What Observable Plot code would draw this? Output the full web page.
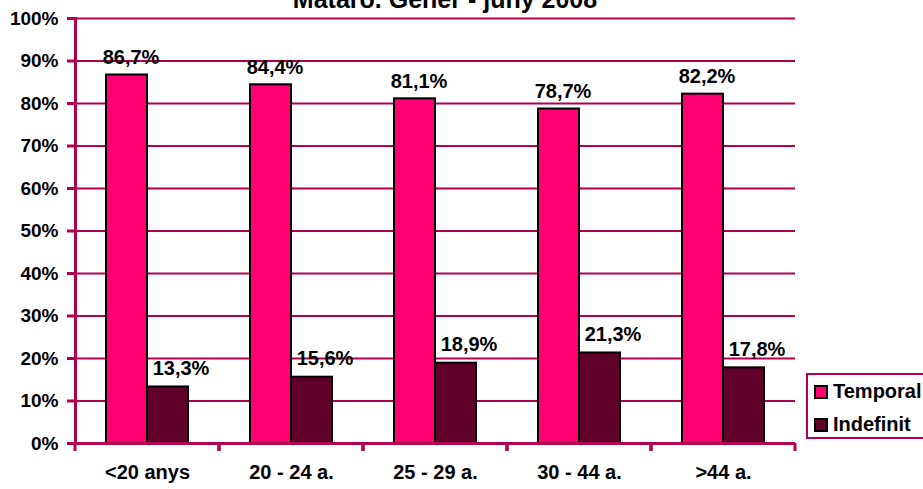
<!DOCTYPE html>
<html>
<head>
<meta charset="utf-8">
<script src="https://cdn.jsdelivr.net/npm/d3@7"></script>
<script src="https://cdn.jsdelivr.net/npm/@observablehq/plot@0.6"></script>
<style>
  html, body { margin: 0; padding: 0; background: #fff; overflow: hidden; }
  #wrap { position: relative; width: 923px; height: 489px; font-family: "Liberation Sans", Arial, sans-serif; font-weight: bold; color: #000; }
  #title { position: absolute; left: 0; width: 890px; top: -16px; text-align: center; font-size: 25px; line-height: 30px; z-index: 2; }
  #legend { position: absolute; left: 806px; top: 373px; width: 130px; height: 62px; border: 2px solid #B0004F; background: #fff; font-size: 20px; z-index: 2; }
  .item { position: absolute; left: 6px; display: flex; align-items: center; }
  .sw { width: 10px; height: 10px; border: 2px solid #000; margin-right: 5px; }
</style>
</head>
<body>
<div id="wrap">
  <div id="title">Mataró. Gener - juny 2008</div>
  <div id="chart"></div>
  <div id="legend"></div>
</div>
<script>
const categories = ["<20 anys", "20 - 24 a.", "25 - 29 a.", "30 - 44 a.", ">44 a."];
const seriesNames = ["Temporal", "Indefinit"];
const temporal = [86.7, 84.4, 81.1, 78.7, 82.2];
const indefinit = [13.3, 15.6, 18.9, 21.3, 17.8];
const yTicks = [0, 10, 20, 30, 40, 50, 60, 70, 80, 90, 100];
const colors = ["#FF0070", "#600028"];
const AX = "#B0004F";

const data = [];
categories.forEach((c, i) => {
  data.push({cat: c, series: seriesNames[0], value: temporal[i]});
  data.push({cat: c, series: seriesNames[1], value: indefinit[i]});
});
const fmt = v => v.toFixed(1).replace(".", ",") + "%";

const boundaryTicks = (index, scales, values, dims) => {
  const g = d3.create("svg:g");
  const y0 = dims.height - dims.marginBottom;
  for (const x of [dims.marginLeft, dims.width - dims.marginRight]) {
    g.append("line").attr("x1", x).attr("x2", x).attr("y1", y0).attr("y2", y0 + 8)
      .attr("stroke", AX).attr("stroke-width", 3);
  }
  return g.node();
};

const plot = Plot.plot({
  width: 923,
  height: 489,
  marginLeft: 75,
  marginRight: 128,
  marginTop: 18,
  marginBottom: 46,
  style: {fontFamily: "'Liberation Sans', Arial, sans-serif", fontWeight: "bold", fontSize: "20px", color: "#000", background: "transparent"},
  fx: {domain: categories, padding: 0, label: null},
  x: {domain: seriesNames, paddingInner: 0, paddingOuter: 0.756, axis: null},
  y: {domain: [0, 100], label: null},
  color: {domain: seriesNames, range: colors},
  marks: [
    Plot.ruleY(yTicks.slice(1), {stroke: AX, strokeWidth: 2}),
    Plot.barY(data, {fx: "cat", x: "series", y: "value", fill: "series", stroke: "#000", strokeWidth: 2}),
    Plot.text(data.filter(d => d.series === seriesNames[0]), {fx: "cat", x: "series", y: "value", text: d => fmt(d.value), lineAnchor: "bottom", dy: -11, dx: 4, fill: "#000"}),
    Plot.text(data.filter(d => d.series === seriesNames[1]), {fx: "cat", x: "series", y: "value", text: d => fmt(d.value), lineAnchor: "bottom", dy: -12, dx: 13, fill: "#000"}),
    Plot.ruleY([0], {stroke: AX, strokeWidth: 3}),
    Plot.frame({anchor: "left", facetAnchor: "left", stroke: AX, strokeWidth: 3}),
    boundaryTicks,
    Plot.axisY({ticks: yTicks, tickFormat: d => d + "%", tickSize: 8, tickPadding: 9, stroke: AX, strokeWidth: 3, fill: "#000", fontSize: 19, label: null}),
    Plot.axisFx({anchor: "bottom", tickSize: 0, tickPadding: 21, label: null, fill: "#000"})
  ]
});
document.getElementById("chart").appendChild(plot);

const legend = document.getElementById("legend");
seriesNames.forEach((s, i) => {
  const item = document.createElement("div");
  item.className = "item";
  item.style.top = (5 + i * 33) + "px";
  const sw = document.createElement("div");
  sw.className = "sw";
  sw.style.background = colors[i];
  const lab = document.createElement("span");
  lab.textContent = s;
  item.appendChild(sw);
  item.appendChild(lab);
  legend.appendChild(item);
});
</script>
</body>
</html>
